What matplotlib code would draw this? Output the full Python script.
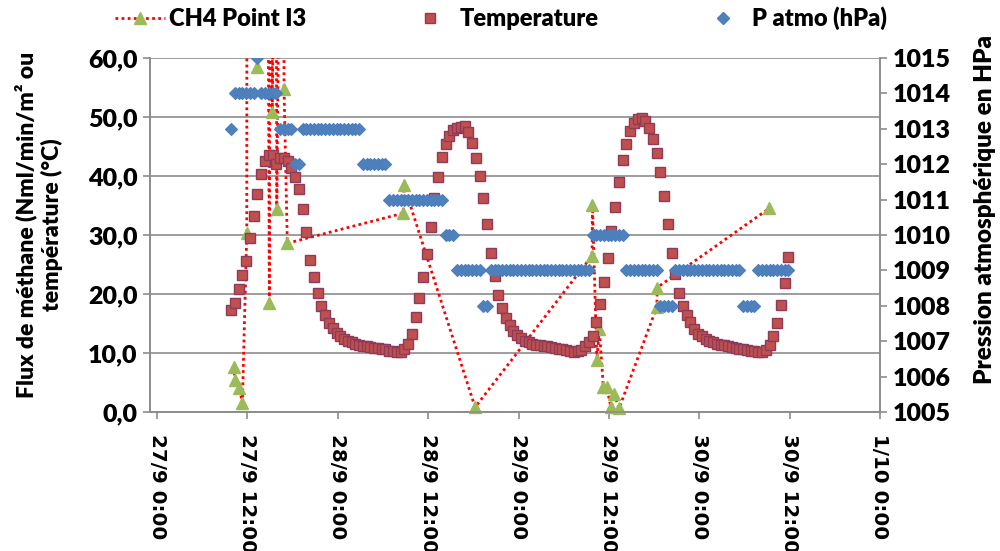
import matplotlib
matplotlib.use("Agg")
import matplotlib.pyplot as plt
import matplotlib.dates as mdates
from matplotlib.lines import Line2D
from matplotlib.ticker import FuncFormatter, MultipleLocator
import numpy as np
import pandas as pd

# CH4 flux at point I3 (values above 60 run off the top of the chart)
ch4_time = ["2011-09-27 10:14", "2011-09-27 10:18", "2011-09-27 10:56", "2011-09-27 11:20",
            "2011-09-27 11:55", "2011-09-27 11:57", "2011-09-27 13:19", "2011-09-27 14:33",
            "2011-09-27 14:55", "2011-09-27 15:04", "2011-09-27 15:19", "2011-09-27 15:44",
            "2011-09-27 15:54", "2011-09-27 16:40", "2011-09-27 16:52", "2011-09-27 17:18",
            "2011-09-28 08:43", "2011-09-28 08:46", "2011-09-28 18:14", "2011-09-29 09:46",
            "2011-09-29 09:49", "2011-09-29 10:24", "2011-09-29 10:44", "2011-09-29 11:16",
            "2011-09-29 11:43", "2011-09-29 12:15", "2011-09-29 12:41", "2011-09-29 13:21",
            "2011-09-29 18:22", "2011-09-29 18:25", "2011-09-30 09:16"]
ch4_flux = [7.7, 5.4, 4.0, 1.6, 30.3, 140, 58.5, 140, 18.4, 140, 50.9, 140, 34.4, 140,
            54.8, 28.6, 33.7, 38.5, 0.8, 26.5, 35.1, 8.8, 14.0, 4.2, 4.2, 0.9, 3.1, 0.6,
            17.8, 21.1, 34.5]

# temperature and atmospheric pressure, logged every 30 min from 27/9 09:50
temp_start = "2011-09-27 09:50"
temperature = [
    17.3, 18.5, 20.8, 23.3, 25.6, 29.5, 33.2, 36.9, 40.3, 42.5,
    43.6, 43.6, 42.0, 43.0, 43.0, 42.6, 41.4, 39.8, 37.8, 34.4,
    30.5, 25.8, 22.8, 20.1, 17.9, 16.4, 15.1, 14.2, 13.4, 12.9,
    12.4, 12.1, 11.8, 11.6, 11.4, 11.2, 11.1, 11.0, 10.9, 10.8,
    10.7, 10.6, 10.4, 10.3, 10.2, 10.2, 10.7, 11.6, 13.3, 16.1,
    19.4, 22.8, 26.7, 31.4, 36.2, 39.9, 43.2, 45.4, 46.8, 47.8,
    48.1, 48.3, 48.4, 47.5, 45.6, 43.0, 40.0, 36.3, 31.9, 26.9,
    23.1, 19.9, 17.7, 16.0, 14.8, 13.8, 13.0, 12.5, 12.0, 11.8,
    11.6, 11.4, 11.3, 11.2, 11.1, 11.0, 10.8, 10.7, 10.6, 10.5,
    10.3, 10.1, 10.3, 10.5, 11.1, 11.8, 12.9, 15.2, 18.3, 22.1,
    26.1, 30.7, 34.7, 39.0, 42.7, 45.5, 47.6, 49.0, 49.7, 49.9,
    49.3, 48.1, 46.3, 43.9, 40.6, 36.6, 31.8, 27.0, 23.4, 20.1,
    17.9, 16.4, 15.2, 14.1, 13.3, 12.8, 12.3, 12.0, 11.8, 11.6,
    11.4, 11.3, 11.1, 11.0, 10.9, 10.7, 10.6, 10.5, 10.4, 10.3,
    10.2, 10.1, 10.5, 11.4, 12.8, 15.1, 18.1, 21.9, 26.2]
p_atmo = [
    1013, 1014, 1014, 1014, 1014, 1014, 1014, 1015, 1014, 1014,
    1014, 1014, 1014, 1013, 1013, 1013, 1013, 1012, 1012, 1013,
    1013, 1013, 1013, 1013, 1013, 1013, 1013, 1013, 1013, 1013,
    1013, 1013, 1013, 1013, 1013, 1012, 1012, 1012, 1012, 1012,
    1012, 1012, 1011, 1011, 1011, 1011, 1011, 1011, 1011, 1011,
    1011, 1011, 1011, 1011, 1011, 1011, 1011, 1010, 1010, 1010,
    1009, 1009, 1009, 1009, 1009, 1009, 1009, 1008, 1008, 1009,
    1009, 1009, 1009, 1009, 1009, 1009, 1009, 1009, 1009, 1009,
    1009, 1009, 1009, 1009, 1009, 1009, 1009, 1009, 1009, 1009,
    1009, 1009, 1009, 1009, 1009, 1009, 1010, 1010, 1010, 1010,
    1010, 1010, 1010, 1010, 1010, 1009, 1009, 1009, 1009, 1009,
    1009, 1009, 1009, 1009, 1008, 1008, 1008, 1008, 1009, 1009,
    1009, 1009, 1009, 1009, 1009, 1009, 1009, 1009, 1009, 1009,
    1009, 1009, 1009, 1009, 1009, 1009, 1008, 1008, 1008, 1008,
    1009, 1009, 1009, 1009, 1009, 1009, 1009, 1009, 1009]

tick_start = "2011-09-27 00:00"

ch4_t = pd.to_datetime(ch4_time)
ch4 = np.array(ch4_flux)
temp_t = pd.date_range(temp_start, periods=len(temperature), freq="30min")

RED = "#FF0000"
GREEN = "#9BBB59"
TEMP_FC, TEMP_EC = "#C0504D", "#8E3B5A"
BLUE_FC, BLUE_EC = "#4F81BD", "#4A7EBB"
GRID = "#8C8C8C"
dots = (0, (1, 1.2))

fig = plt.figure(figsize=(10, 5.51), dpi=100)
ax = fig.add_axes([0.15, 0.2523, 0.73, 0.6424])
ax2 = ax.twinx()

ax.plot(ch4_t, ch4, ls=dots, color=RED, lw=2, zorder=2)
ok = ch4 <= 60
ax.plot(ch4_t[ok], ch4[ok], ls="none", marker="^", ms=9, mfc=GREEN, mec=GREEN,
        clip_on=False, zorder=3)
ax.plot(temp_t, temperature, ls="none", marker="s", ms=7.3, mfc=TEMP_FC, mec=TEMP_EC,
        mew=1, zorder=4)
ax2.plot(temp_t, p_atmo, ls="none", marker="D", ms=6, mfc=BLUE_FC, mec=BLUE_EC, mew=0.8)

t0 = pd.Timestamp(tick_start)
ax.set_xlim(t0 - pd.Timedelta(minutes=56), t0 + pd.Timedelta(hours=96))
ax.set_ylim(0, 60)
ax2.set_ylim(1005, 1015)

ax.set_xticks(pd.date_range(t0, periods=9, freq="12h"))


def date_fmt(v, pos):
    d = mdates.num2date(v)
    return f"{d.day}/{d.month} {d.hour}:{d.minute:02d}"


ax.xaxis.set_major_formatter(FuncFormatter(date_fmt))
ax.yaxis.set_major_locator(MultipleLocator(10))
ax.yaxis.set_major_formatter(FuncFormatter(lambda v, p: f"{v:.1f}".replace(".", ",")))
ax2.yaxis.set_major_locator(MultipleLocator(1))

heavy = dict(family="Lato", weight="heavy")
for lab in ax.get_xticklabels():
    lab.set_family("DejaVu Sans")
    lab.set_weight("bold")
    lab.set_fontsize(14.3)
    lab.set_rotation(-90)
for lab in ax.get_yticklabels() + ax2.get_yticklabels():
    lab.set_family("Lato")
    lab.set_weight("heavy")
    lab.set_fontsize(18)

ax.tick_params(axis="x", length=5, width=1.2, color=GRID, pad=11)
ax.tick_params(axis="y", length=5, width=1.2, color=GRID, pad=4)
ax2.tick_params(axis="y", length=5, width=1.2, color=GRID, pad=4)

ax.yaxis.grid(True, color=GRID, lw=1.2)
ax.set_axisbelow(True)
for a in (ax, ax2):
    a.spines["top"].set_visible(False)
    for s in ("left", "right", "bottom"):
        a.spines[s].set_color(GRID)
        a.spines[s].set_linewidth(1.2)

fig.text(0.0385, 0.592, "Flux de méthane (Nml/min/m² ou\ntempérature (°C)",
         rotation=90, ha="center", va="center", ma="center", fontsize=16.5,
         linespacing=1.2, **heavy)
fig.text(0.985, 0.619, "Pression atmosphérique en HPa", rotation=90,
         ha="center", va="center", fontsize=17.5, **heavy)

h1 = Line2D([], [], color=RED, ls=dots, lw=2, marker="^", ms=9, mfc=GREEN, mec=GREEN)
h2 = Line2D([], [], ls="none", marker="s", ms=7.3, mfc=TEMP_FC, mec=TEMP_EC)
h3 = Line2D([], [], ls="none", marker="D", ms=6, mfc=BLUE_FC, mec=BLUE_EC)
fig.legend([h1, h2, h3], ["CH4 Point I3", "Temperature", "P atmo (hPa)"],
           loc="center left", bbox_to_anchor=(0.115, 0.967), ncol=3, frameon=False,
           prop=dict(family="Lato", weight="heavy", size=17), numpoints=1,
           handlelength=2.1, handletextpad=0.2, columnspacing=4.2,
           borderpad=0, borderaxespad=0)

fig.savefig("out.png", dpi=100)
